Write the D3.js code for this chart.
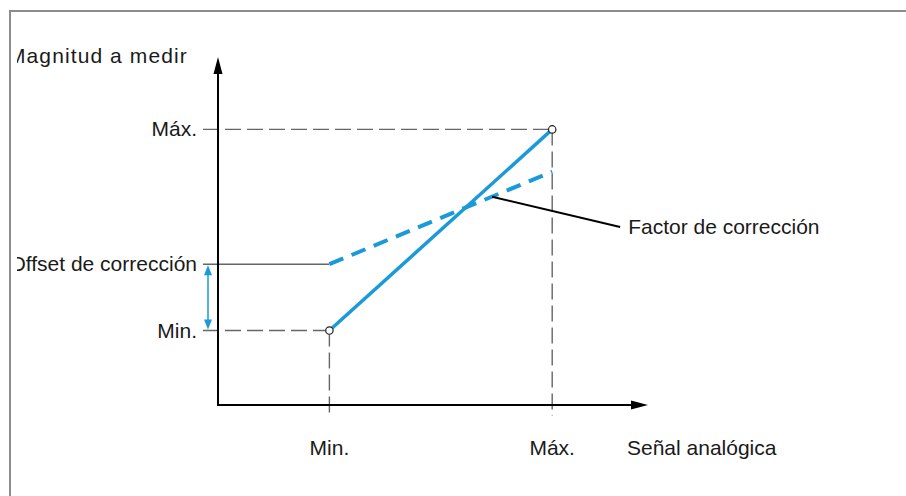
<!DOCTYPE html>
<html>
<head>
<meta charset="utf-8">
<script src="https://cdn.jsdelivr.net/npm/d3@7"></script>
<style>
  html, body { margin: 0; padding: 0; background: #fff; }
  svg { display: block; }
  text { font-family: "Liberation Sans", Arial, Helvetica, sans-serif; font-size: 21px; fill: #1a1a1a; }
</style>
</head>
<body>
<div id="chart"></div>
<script>
// ---- data ----
const xTickValues = [0, 1];
const xTickLabels = ["Min.", "Máx."];
const yTickValues = [0, 0.33, 1];
const yTickLabels = ["Min.", "Offset de corrección", "Máx."];
const xAxisTitle = "Señal analógica";
const yAxisTitle = "Magnitud a medir";
const signalX = [0, 1];
const measuredY = [0, 1];          // solid line (Min -> Máx)
const correctedY = [0.33, 0.79];   // dashed line (with offset & factor)
const offsetValue = 0.33;
const calloutText = "Factor de corrección";
const calloutFrom = [0.73, 0.665];
const calloutTo = [1.305, 0.515];

// ---- layout ----
const W = 906, H = 496;
const svg = d3.select("#chart").append("svg").attr("width", W).attr("height", H);

const x = d3.scaleLinear().domain([-0.5, 1.43]).range([218, 648]);
const y = d3.scaleLinear().domain([-0.37, 1.36]).range([405, 57]);

const blue = "#1a9ad8";
const grey = "#666";

// frame
svg.append("path")
  .attr("d", `M10,${H} L10,11 L${W},11`)
  .attr("fill", "none").attr("stroke", "#8c8c8c").attr("stroke-width", 2);

const defs = svg.append("defs");
defs.append("clipPath").attr("id", "inner")
  .append("rect").attr("x", 17).attr("y", 12).attr("width", W - 17).attr("height", H - 12);

const g = svg.append("g").attr("clip-path", "url(#inner)");

// guide lines (dashed) to Min and Máx points
const labelX = 203;
[[0, 0], [1, 1]].forEach(([xv, yv]) => {
  g.append("line")
    .attr("x1", labelX).attr("x2", x(xv)).attr("y1", y(yv)).attr("y2", y(yv))
    .attr("stroke", grey).attr("stroke-width", 1.4).attr("stroke-dasharray", "16,6");
  g.append("line")
    .attr("x1", x(xv)).attr("x2", x(xv)).attr("y1", y(yv)).attr("y2", y(-0.37) + 11)
    .attr("stroke", grey).attr("stroke-width", 1.4).attr("stroke-dasharray", "16,6");
});
// offset solid guide
g.append("line")
  .attr("x1", labelX).attr("x2", x(0)).attr("y1", y(offsetValue)).attr("y2", y(offsetValue))
  .attr("stroke", grey).attr("stroke-width", 1.4);

// axes
const ax0 = x.domain()[0], ax1 = x.domain()[1];
const ay0 = y.domain()[0], ay1 = y.domain()[1];
g.append("line").attr("x1", x(ax0)).attr("x2", x(ax1) - 14).attr("y1", y(ay0)).attr("y2", y(ay0))
  .attr("stroke", "#000").attr("stroke-width", 2);
g.append("line").attr("x1", x(ax0)).attr("x2", x(ax0)).attr("y1", y(ay0) + 1).attr("y2", y(ay1) + 14)
  .attr("stroke", "#000").attr("stroke-width", 2);
g.append("path")
  .attr("d", `M${x(ax1)},${y(ay0)} L${x(ax1) - 17},${y(ay0) - 4.5} L${x(ax1) - 17},${y(ay0) + 4.5} Z`)
  .attr("fill", "#000");
g.append("path")
  .attr("d", `M${x(ax0)},${y(ay1)} L${x(ax0) - 4.5},${y(ay1) + 17} L${x(ax0) + 4.5},${y(ay1) + 17} Z`)
  .attr("fill", "#000");

// offset double arrow
const dax = 208;
const ya = y(offsetValue) + 1, yb = y(0) - 1;
g.append("line").attr("x1", dax).attr("x2", dax).attr("y1", ya + 8).attr("y2", yb - 8)
  .attr("stroke", blue).attr("stroke-width", 1.5);
g.append("path").attr("d", `M${dax},${ya} L${dax - 4},${ya + 10} L${dax + 4},${ya + 10} Z`).attr("fill", blue);
g.append("path").attr("d", `M${dax},${yb} L${dax - 4},${yb - 10} L${dax + 4},${yb - 10} Z`).attr("fill", blue);

// series lines
const line = d3.line().x(d => x(d[0])).y(d => y(d[1]));
g.append("path")
  .datum(signalX.map((v, i) => [v, correctedY[i]]))
  .attr("d", line).attr("fill", "none").attr("stroke", blue)
  .attr("stroke-width", 4).attr("stroke-dasharray", "15,9");
g.append("path")
  .datum(signalX.map((v, i) => [v, measuredY[i]]))
  .attr("d", line).attr("fill", "none").attr("stroke", blue)
  .attr("stroke-width", 3.5);

// callout
g.append("line")
  .attr("x1", x(calloutFrom[0])).attr("y1", y(calloutFrom[1]))
  .attr("x2", x(calloutTo[0])).attr("y2", y(calloutTo[1]))
  .attr("stroke", "#000").attr("stroke-width", 2);
g.append("text").attr("x", x(calloutTo[0]) + 8).attr("y", y(calloutTo[1]) + 7).text(calloutText);

// endpoints
g.selectAll("circle.pt").data(signalX.map((v, i) => [v, measuredY[i]])).enter()
  .append("circle").attr("class", "pt")
  .attr("cx", d => x(d[0])).attr("cy", d => y(d[1])).attr("r", 3.7)
  .attr("fill", "#fff").attr("stroke", "#222").attr("stroke-width", 1.2);

// y tick labels
g.selectAll("text.ylab").data(yTickValues).enter().append("text").attr("class", "ylab")
  .attr("x", 197).attr("y", d => y(d) + 7).attr("text-anchor", "end")
  .text((d, i) => yTickLabels[i]);

// x tick labels
g.selectAll("text.xlab").data(xTickValues).enter().append("text").attr("class", "xlab")
  .attr("x", d => x(d)).attr("y", 455).attr("text-anchor", "middle")
  .text((d, i) => xTickLabels[i]);

// axis titles
g.append("text").attr("x", 627).attr("y", 455).text(xAxisTitle);
g.append("text").attr("x", 8).attr("y", 63).attr("letter-spacing", "1.1px").text(yAxisTitle);
</script>
</body>
</html>
